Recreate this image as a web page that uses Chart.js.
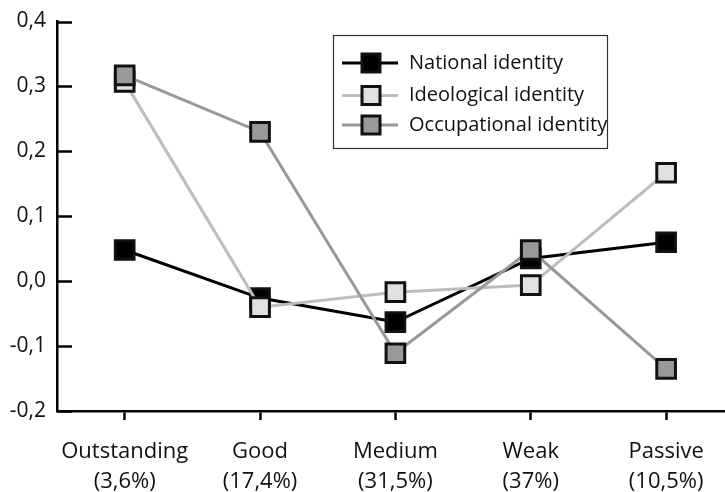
<!DOCTYPE html>
<html>
<head>
<meta charset="utf-8">
<script src="https://cdn.jsdelivr.net/npm/chart.js@4"></script>
<style>
  html, body { margin: 0; padding: 0; background: #fff; overflow: hidden; }
  #wrap { width: 750px; height: 492px; position: relative; }
</style>
</head>
<body>
<div id="wrap"><canvas id="chart" width="750" height="492"></canvas></div>
<script>
// categories and their shares
const categoryNames = ['Outstanding', 'Good', 'Medium', 'Weak', 'Passive'];
const categoryShares = ['(3,6%)', '(17,4%)', '(31,5%)', '(37%)', '(10,5%)'];

// series values
const nationalIdentity = [0.048, -0.026, -0.063, 0.035, 0.060];
const ideologicalIdentity = [0.307, -0.040, -0.017, -0.006, 0.167];
const occupationalIdentity = [0.317, 0.230, -0.111, 0.048, -0.135];

const seriesNames = ['National identity', 'Ideological identity', 'Occupational identity'];

// y axis ticks
const yMin = -0.2, yMax = 0.4, yStep = 0.1;

const FONT = '"Open Sans", sans-serif';

// inward tick marks on the y axis
const yTickPlugin = {
    id: 'yTicksInside',
    afterDatasetsDraw(chart) {
        const ctx = chart.ctx;
        const y = chart.scales.y;
        const left = chart.chartArea.left;
        ctx.save();
        ctx.strokeStyle = '#000';
        ctx.lineWidth = 2.5;
        y.ticks.forEach(t => {
            const py = Math.round(y.getPixelForValue(t.value)) + 0.5;
            ctx.beginPath();
            ctx.moveTo(left, py);
            ctx.lineTo(left + 15, py);
            ctx.stroke();
        });
        ctx.restore();
    }
};

// boxed legend inside the plot
const legendPlugin = {
    id: 'boxLegend',
    afterDraw(chart) {
        const ctx = chart.ctx;
        const rows = [63, 95.5, 125];
        ctx.save();
        ctx.strokeStyle = '#333';
        ctx.lineWidth = 1.2;
        ctx.strokeRect(333.5, 35.5, 274, 113);
        chart.data.datasets.forEach((ds, i) => {
            const cy = rows[i];
            ctx.strokeStyle = ds.borderColor;
            ctx.lineWidth = ds.borderWidth;
            ctx.beginPath();
            ctx.moveTo(342, cy);
            ctx.lineTo(398, cy);
            ctx.stroke();
            ctx.fillStyle = ds.pointBackgroundColor;
            ctx.fillRect(362, cy - 9, 18, 18);
            ctx.strokeStyle = '#111';
            ctx.lineWidth = 3;
            ctx.strokeRect(362, cy - 9, 18, 18);
            ctx.fillStyle = '#111';
            ctx.font = '20px ' + FONT;
            ctx.textBaseline = 'middle';
            ctx.textAlign = 'left';
            ctx.fillText(ds.label, 409, cy);
        });
        ctx.restore();
    }
};

function makeSet(label, data, line, fill, order) {
    return {
        label: label,
        data: data,
        borderColor: line,
        borderWidth: 3,
        tension: 0,
        pointStyle: 'rect',
        pointRadius: 13.2,
        pointBackgroundColor: fill,
        pointBorderColor: '#111',
        pointBorderWidth: 3,
        order: order
    };
}

new Chart(document.getElementById('chart'), {
    type: 'line',
    data: {
        labels: categoryNames.map((n, i) => [n, categoryShares[i]]),
        datasets: [
            makeSet(seriesNames[0], nationalIdentity, '#000000', '#000000', 3),
            makeSet(seriesNames[1], ideologicalIdentity, '#bdbdbd', '#e0e0e0', 2),
            makeSet(seriesNames[2], occupationalIdentity, '#999999', '#999999', 1)
        ]
    },
    options: {
        responsive: false,
        animation: false,
        layout: { padding: { top: 19.5, right: 0, bottom: 0, left: 0 } },
        plugins: {
            legend: { display: false },
            tooltip: { enabled: false }
        },
        scales: {
            x: {
                offset: true,
                grid: {
                    offset: false,
                    drawOnChartArea: false,
                    drawTicks: true,
                    tickLength: 9,
                    tickColor: '#000',
                    tickWidth: 2.5
                },
                border: { color: '#000', width: 2.5 },
                ticks: {
                    color: '#111',
                    padding: 17,
                    maxRotation: 0,
                    autoSkip: false,
                    font: { family: FONT, size: 22, lineHeight: 1.36 }
                },
                afterFit(scale) { scale.height = 81; }
            },
            y: {
                min: yMin,
                max: yMax,
                grid: { drawOnChartArea: false, drawTicks: false },
                border: { color: '#000', width: 2.5 },
                ticks: {
                    stepSize: yStep,
                    color: '#111',
                    padding: 11,
                    font: { family: FONT, size: 21, lineHeight: 1 },
                    callback: v => (Math.abs(v) < 1e-9 ? 0 : v).toFixed(1).replace('.', ',')
                },
                afterFit(scale) { scale.width = 57; }
            }
        }
    },
    plugins: [yTickPlugin, legendPlugin]
});
</script>
</body>
</html>
